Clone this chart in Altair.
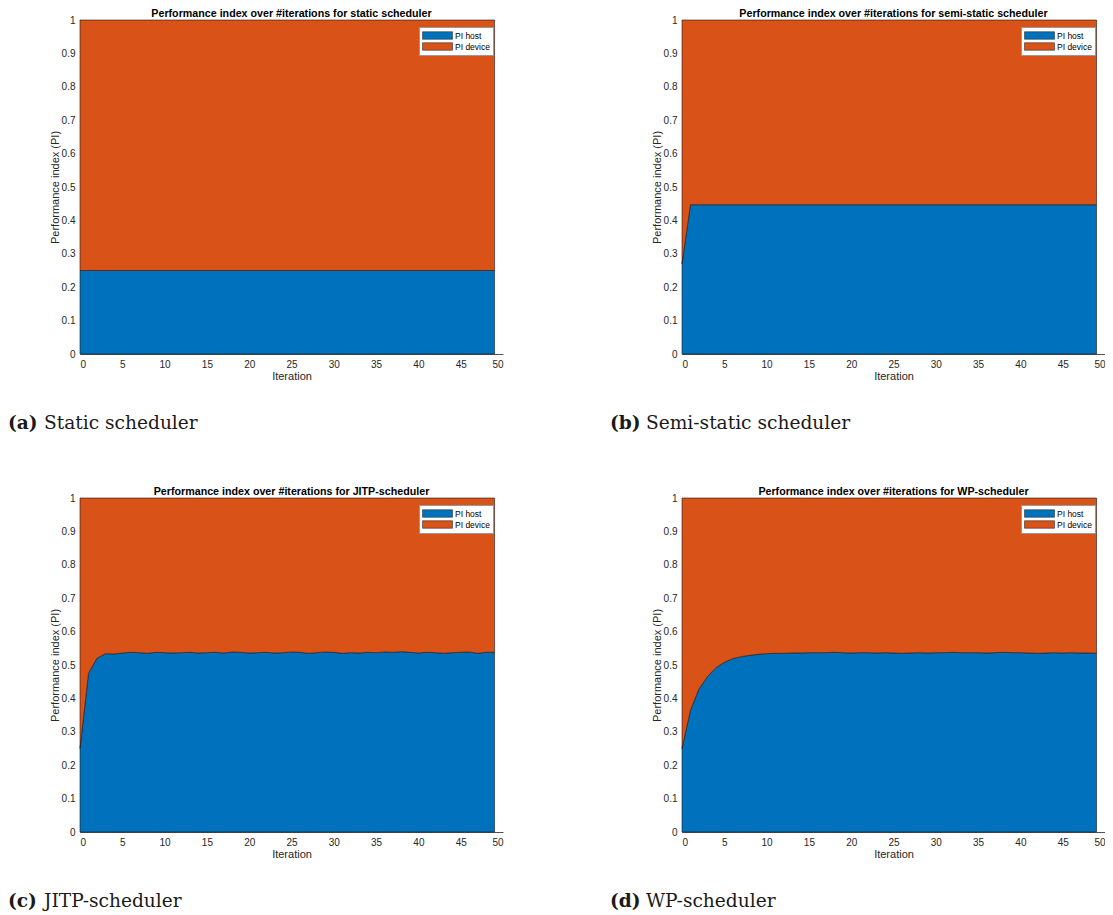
import altair as alt
import pandas as pd

iterations = list(range(50))
series_names = ["PI host", "PI device"]
series_colors = ["#0072BD", "#D95319"]
x_ticks = [0, 5, 10, 15, 20, 25, 30, 35, 40, 45, 50]
y_ticks = [0, 0.1, 0.2, 0.3, 0.4, 0.5, 0.6, 0.7, 0.8, 0.9, 1]

static_host = [0.25] * 50
semi_host = [0.27] + [0.447] * 49
jitp_host = [0.25, 0.475, 0.52, 0.534, 0.533, 0.536, 0.538, 0.537, 0.535, 0.538,
             0.537, 0.536, 0.537, 0.538, 0.536, 0.537, 0.538, 0.536, 0.539, 0.538,
             0.536, 0.537, 0.538, 0.536, 0.537, 0.539, 0.538, 0.535, 0.537, 0.539,
             0.538, 0.535, 0.537, 0.536, 0.538, 0.537, 0.539, 0.538, 0.540, 0.538,
             0.536, 0.538, 0.537, 0.535, 0.537, 0.538, 0.539, 0.535, 0.538, 0.538]
wp_host = [0.25, 0.365, 0.428, 0.465, 0.492, 0.508, 0.519, 0.525, 0.529, 0.532,
           0.534, 0.535, 0.535, 0.536, 0.536, 0.537, 0.537, 0.537, 0.538, 0.537,
           0.536, 0.537, 0.537, 0.536, 0.537, 0.536, 0.535, 0.536, 0.537, 0.536,
           0.537, 0.537, 0.538, 0.537, 0.537, 0.537, 0.536, 0.537, 0.538, 0.537,
           0.537, 0.536, 0.535, 0.536, 0.537, 0.536, 0.537, 0.536, 0.536, 0.535]

titles = [
    "Performance index over #iterations for static scheduler",
    "Performance index over #iterations for semi-static scheduler",
    "Performance index over #iterations for JITP-scheduler",
    "Performance index over #iterations for WP-scheduler",
]
tags = ["(a)", "(b)", "(c)", "(d)"]
captions = ["Static scheduler", "Semi-static scheduler", "JITP-scheduler", "WP-scheduler"]

W, H = 423, 334
SANS = "Liberation Sans"
SERIF = "DejaVu Serif"
RECT = "M-1,-0.75H5V0.75H-1Z"


def panel(host, title, tag, caption):
    df = pd.DataFrame({"Iteration": iterations, "PI host": host})
    base = (
        alt.Chart(df)
        .transform_calculate(**{"PI device": "1 - datum['PI host']"})
        .transform_fold(series_names, as_=["series", "value"])
        .transform_calculate(ord="datum.series === 'PI host' ? 0 : 1")
    )
    area = base.mark_area(stroke="#1a1a1a", strokeWidth=0.6, opacity=1).encode(
        x=alt.X("Iteration:Q",
                scale=alt.Scale(domain=[0, 50], nice=False, zero=False),
                axis=alt.Axis(values=x_ticks, title="Iteration", ticks=False,
                              labelPadding=5, titlePadding=1, grid=False)),
        y=alt.Y("value:Q", stack="zero",
                scale=alt.Scale(domain=[0, 1], nice=False),
                axis=alt.Axis(values=y_ticks, title="Performance index (PI)",
                              format="~g", ticks=False, labelPadding=5,
                              titlePadding=1, grid=False)),
        color=alt.Color("series:N",
                        scale=alt.Scale(domain=series_names, range=series_colors),
                        legend=alt.Legend(title=None, orient="none",
                                          legendX=339, legendY=7,
                                          fillColor="white", strokeColor="#999",
                                          padding=3, symbolType=RECT,
                                          symbolSize=100, symbolStrokeColor="#333",
                                          symbolStrokeWidth=0.6, symbolOpacity=1,
                                          labelFont=SANS, labelFontSize=8.5,
                                          labelColor="black", rowPadding=0,
                                          labelOffset=22)),
        order=alt.Order("ord:Q"),
    )
    txt_df = pd.DataFrame({"title": [title], "tag": [tag], "caption": [caption]})
    title_text = alt.Chart(txt_df).mark_text(
        align="center", baseline="alphabetic", font=SANS, fontSize=10.7,
        fontWeight="bold", color="black"
    ).encode(x=alt.value(W / 2), y=alt.value(-3), text="title:N")
    tag_text = alt.Chart(txt_df).mark_text(
        align="left", baseline="alphabetic", font=SERIF, fontSize=18.6,
        fontWeight="bold", color="#1a1a1a"
    ).encode(x=alt.value(-72), y=alt.value(H + 75), text="tag:N")
    cap_text = alt.Chart(txt_df).mark_text(
        align="left", baseline="alphabetic", font=SERIF, fontSize=18.6,
        color="#1a1a1a"
    ).encode(x=alt.value(-36), y=alt.value(H + 75), text="caption:N")
    return alt.layer(area, title_text, tag_text, cap_text).properties(
        width=W, height=H,
    ).resolve_scale(color="independent")


panels = [panel(h, t, g, c) for h, t, g, c in
          zip([static_host, semi_host, jitp_host, wp_host], titles, tags, captions)]

row1 = alt.hconcat(panels[0], panels[1], spacing=107).resolve_scale(color="independent")
row2 = alt.hconcat(panels[2], panels[3], spacing=107).resolve_scale(color="independent")
chart = alt.vconcat(row1, row2, spacing=53).resolve_scale(color="independent").properties(
    padding={"left": 0, "top": 0, "right": 0, "bottom": 0}
).configure_view(stroke=None).configure_axis(
    domainColor="#262626", domainWidth=0.8, labelColor="#262626",
    labelFont=SANS, labelFontSize=10, titleFont=SANS, titleFontSize=11,
    titleFontWeight="normal", titleColor="#262626"
)

chart.save("out.html", embed_options={"renderer": "svg", "actions": False})
